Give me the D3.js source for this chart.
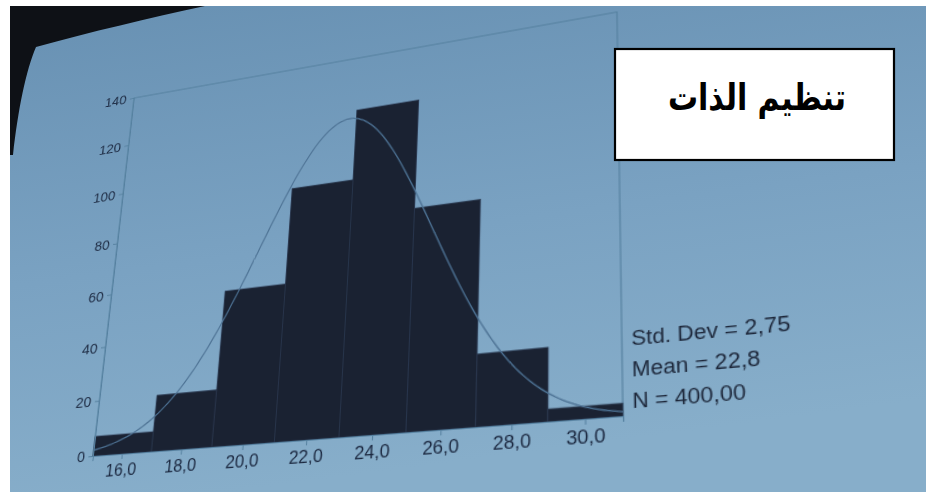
<!DOCTYPE html>
<html>
<head>
<meta charset="utf-8">
<script src="https://cdn.jsdelivr.net/npm/d3@7"></script>
<style>
  html, body { margin: 0; padding: 0; width: 926px; height: 492px; overflow: hidden; background: #fff; }
  #stage { position: relative; width: 926px; height: 492px; overflow: hidden; }
  #bg, #overlay { position: absolute; left: 0; top: 0; }
  #plane { position: absolute; left: 0; top: 0; width: 926px; height: 560px; transform-origin: 0 0; }
</style>
</head>
<body>
<div id="stage">
  <svg id="bg" width="926" height="492"></svg>
  <div id="plane"><svg id="chart" width="926" height="560"></svg></div>
  <svg id="overlay" width="926" height="492"></svg>
</div>
<script>
// ---- data ----
const binCenters = [16, 18, 20, 22, 24, 26, 28, 30];
const frequencies = [7, 20, 56, 92, 119, 78, 24, 4];
const binWidth = 2;
const xTicks = [16, 18, 20, 22, 24, 26, 28, 30];
const yTicks = [0, 20, 40, 60, 80, 100, 120, 140];
const stdDev = 2.75;
const mean = 22.8;
const count = 400;
const title = "تنظيم الذات";

// ---- flat chart layout ----
const fx = 100, fy = 60, fw = 505, fh = 380;
// where the frame corners land on screen (TL, TR, BR, BL)
const quad = [[134, 98], [617, 12], [623, 416], [93, 456]];

// homography: unit square -> quad
function squareToQuad(p) {
  const [x0, y0] = p[0], [x1, y1] = p[1], [x2, y2] = p[2], [x3, y3] = p[3];
  const dx1 = x1 - x2, dx2 = x3 - x2, dx3 = x0 - x1 + x2 - x3;
  const dy1 = y1 - y2, dy2 = y3 - y2, dy3 = y0 - y1 + y2 - y3;
  const den = dx1 * dy2 - dx2 * dy1;
  const g = (dx3 * dy2 - dx2 * dy3) / den;
  const h = (dx1 * dy3 - dx3 * dy1) / den;
  return {
    a: x1 - x0 + g * x1, b: x3 - x0 + h * x3, c: x0,
    d: y1 - y0 + g * y1, e: y3 - y0 + h * y3, f: y0,
    g: g, h: h
  };
}
const H = squareToQuad(quad);
const A = H.a / fw, B = H.b / fh, C = H.c - H.a * fx / fw - H.b * fy / fh;
const D = H.d / fw, E = H.e / fh, F = H.f - H.d * fx / fw - H.e * fy / fh;
const G = H.g / fw, Hh = H.h / fh, I = 1 - H.g * fx / fw - H.h * fy / fh;
document.getElementById("plane").style.transform =
  `matrix3d(${A},${D},0,${G},${B},${E},0,${Hh},0,0,1,0,${C},${F},0,${I})`;

// ---- background (screen + dark corner) ----
const bg = d3.select("#bg");
const defs = bg.append("defs");
const grad = defs.append("linearGradient").attr("id", "paper")
  .attr("x1", 0).attr("y1", 0).attr("x2", 0.25).attr("y2", 1);
grad.append("stop").attr("offset", 0).attr("stop-color", "#6790b2");
grad.append("stop").attr("offset", 0.55).attr("stop-color", "#7aa2c2");
grad.append("stop").attr("offset", 1).attr("stop-color", "#87aeca");
bg.append("rect").attr("width", 926).attr("height", 492).attr("fill", "url(#paper)");
bg.append("path")
  .attr("d", "M10,6 L205,6 C150,18 90,32 36,47 C26,70 18,110 13,155 L10,155 Z")
  .attr("fill", "#0e1116");

// ---- chart plane ----
const svg = d3.select("#chart");
const x = d3.scaleLinear().domain([15, 31]).range([fx, fx + fw]);
const y = d3.scaleLinear().domain([0, 140]).range([fy + fh, fy]);

const ink = "#1b2840";
const lineCol = "#55809f";

// frame
svg.append("rect")
  .attr("x", fx).attr("y", fy).attr("width", fw).attr("height", fh)
  .attr("fill", "none").attr("stroke", lineCol).attr("stroke-width", 1.1);

// bars
svg.append("g").selectAll("rect").data(binCenters).join("rect")
  .attr("x", (c) => x(c - binWidth / 2))
  .attr("width", (c) => x(c + binWidth / 2) - x(c - binWidth / 2))
  .attr("y", (c, i) => y(frequencies[i]))
  .attr("height", (c, i) => y(0) - y(frequencies[i]))
  .attr("fill", "#1a2232")
  .attr("stroke", "#28364d").attr("stroke-width", 0.8);

// normal curve from the reported mean / sd / N
const pdf = (v) => Math.exp(-0.5 * ((v - mean) / stdDev) ** 2) / (stdDev * Math.sqrt(2 * Math.PI));
const xs = d3.range(15, 31.001, 0.1);
svg.append("path")
  .attr("d", d3.line().x((v) => x(v)).y((v) => y(count * binWidth * pdf(v)))(xs))
  .attr("fill", "none").attr("stroke", "#4d7294").attr("stroke-width", 1.3);

// axes
const yAxis = svg.append("g").attr("transform", `translate(${fx},0)`)
  .call(d3.axisLeft(y).tickValues(yTicks).tickSize(5).tickPadding(4).tickFormat(d3.format("d")));
const xAxis = svg.append("g").attr("transform", `translate(0,${fy + fh})`)
  .call(d3.axisBottom(x).tickValues(xTicks).tickSize(5).tickPadding(4)
    .tickFormat((v) => d3.format(".1f")(v).replace(".", ",")));
[yAxis, xAxis].forEach((g) => {
  g.select(".domain").attr("stroke", lineCol).attr("stroke-width", 1.1);
  g.selectAll(".tick line").attr("stroke", lineCol);
  g.selectAll("text").attr("fill", ink).attr("font-family", "Liberation Sans, Arial, sans-serif");
});
yAxis.selectAll("text").attr("font-size", 15.5);
xAxis.selectAll("text").attr("font-size", 17);

// summary statistics
const statLines = [
  `Std. Dev = ${d3.format(".2f")(stdDev).replace(".", ",")}`,
  `Mean = ${d3.format(".1f")(mean).replace(".", ",")}`,
  `N = ${d3.format(".2f")(count).replace(".", ",")}`
];
svg.append("g").selectAll("text").data(statLines).join("text")
  .attr("x", fx + fw + 8)
  .attr("y", (d, i) => fy + 320 + i * 27)
  .attr("fill", "#1c2639")
  .attr("font-family", "Liberation Sans, Arial, sans-serif")
  .attr("font-size", 18.5)
  .text((d) => d);

// ---- title box and photo margins ----
const ov = d3.select("#overlay");
ov.append("rect").attr("x", 615).attr("y", 49).attr("width", 279).attr("height", 111)
  .attr("fill", "#fff").attr("stroke", "#000").attr("stroke-width", 2.2);
ov.append("text")
  .attr("transform", "translate(757,110) scale(1,1.22)")
  .attr("text-anchor", "middle").attr("direction", "rtl")
  .attr("font-family", "DejaVu Sans, sans-serif").attr("font-weight", "bold")
  .attr("font-size", 30).attr("fill", "#000")
  .text(title);
ov.append("rect").attr("x", 0).attr("y", 0).attr("width", 926).attr("height", 6).attr("fill", "#fff");
ov.append("rect").attr("x", 0).attr("y", 0).attr("width", 10).attr("height", 492).attr("fill", "#fff");
</script>
</body>
</html>
